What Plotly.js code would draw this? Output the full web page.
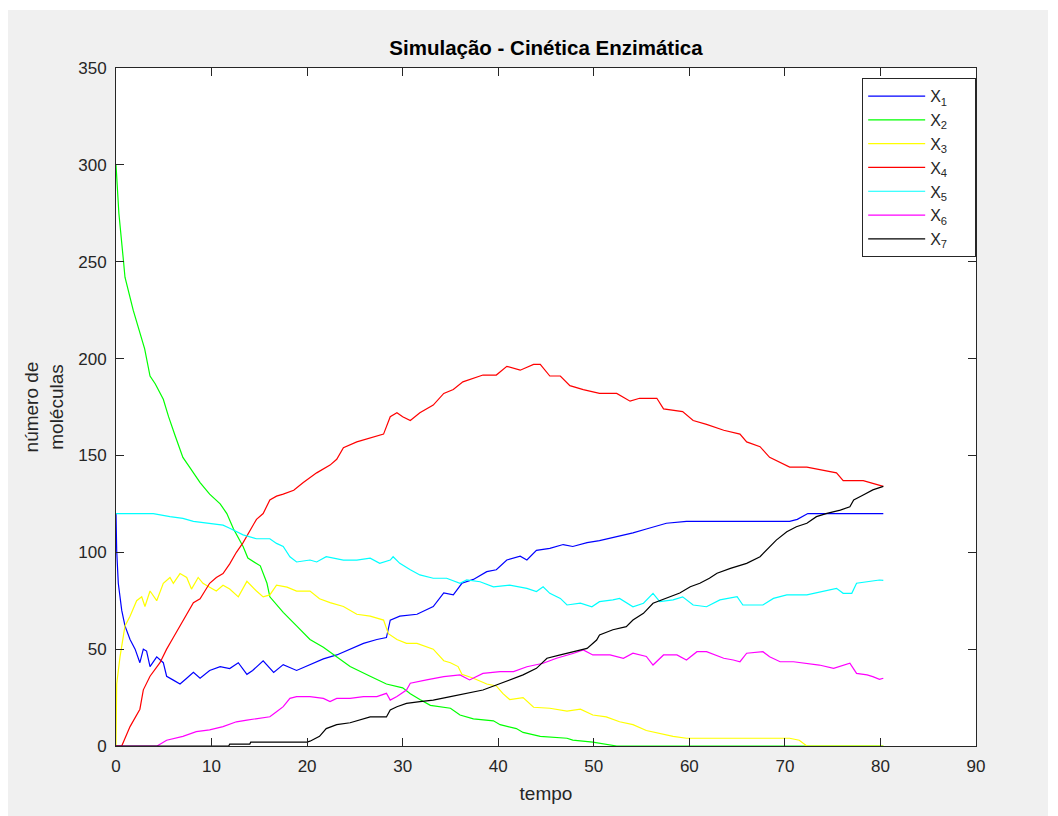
<!DOCTYPE html>
<html>
<head>
<meta charset="utf-8">
<script src="https://cdn.plot.ly/plotly-3.0.1.min.js"></script>
<style>
html,body{margin:0;padding:0;background:#ffffff;overflow:hidden;}
#chart{position:absolute;left:8px;top:10px;width:1040px;height:806px;}
</style>
</head>
<body>
<div id="chart"></div>
<script>
// ---- data ----
const seriesNames = ["X<sub>1</sub>","X<sub>2</sub>","X<sub>3</sub>","X<sub>4</sub>","X<sub>5</sub>","X<sub>6</sub>","X<sub>7</sub>"];

const t1 = [0,0.07,0.24,0.6,0.94,1.47,2.0,2.5,2.86,3.2,3.56,4.26,4.95,5.3,6.0,6.7,7.4,8.1,8.8,9.8,10.9,11.9,12.8,13.7,14.3,15.4,16.5,17.5,18.9,20.3,21.7,23.1,24.5,25.9,27.3,28.3,28.7,29.7,31.5,33.2,34.3,35.3,36.2,37.4,38.8,39.8,40.9,42.3,43.0,44.0,45.4,46.8,47.8,49.3,50.6,52.4,54.1,55.5,57.6,59.7,70.5,71.3,72.4,80.3];
const x1 = [120,101,84,70,62,55,50,43,50,49,41,46,43,36,34,32,35,38,35,39,41,40,43,37,39,44,38,42,39,42,45,47,50,53,55,56,65,67,68,72,79,78,84,86,90,91,96,98,96,101,102,104,103,105,106,108,110,112,115,116,116,117,120,120];

const t2 = [0,0.3,0.77,0.94,1.8,2.5,3.0,3.56,4.1,4.95,5.5,6.2,7.0,7.7,8.8,9.8,10.9,11.6,12.3,13.3,13.8,15.1,15.8,16.1,17.5,18.9,20.3,21.7,23.1,24.5,26.6,28.3,30.0,30.8,31.8,32.9,35.0,36.0,37.4,39.5,40.2,41.9,42.6,44.4,47.2,47.8,49.9,51.0,52.4,80.3];
const x2 = [300,275,251,242,225,213,205,191,187,179,170,160,149,144,136,130,125,120,112,103,97,93,84,77,69,62,55,51,46,41,36,32,30,27,24,21,19.5,16,14,13,11,9,7,5,4,3,2,1,0,0];

const t3 = [0,0.07,0.42,0.94,1.47,2.16,2.69,3.03,3.56,4.26,4.95,5.65,6.0,6.7,7.4,7.9,8.6,9.1,9.8,10.5,11.2,11.9,12.8,13.7,14.7,15.4,16.1,16.8,17.9,18.9,20.3,21.3,22.4,23.8,25.2,26.6,28.0,28.5,29.4,30.4,31.5,33.2,34.3,35.0,35.8,36.2,37.4,38.8,39.8,40.5,41.2,42.6,43.7,45.4,47.2,48.6,49.9,51.3,52.7,54.1,55.5,56.9,58.3,59.7,70.5,71.5,72.3,80.3];
const x3 = [0,32,46,62,67,75,77,72,80,75,84,87,84,89,87,81,87,84,82,80,83,81,77,85,80,77,78,83,82,80,80,76,74,72,68,67,65,58,55,53,53,50,44,43,41,37,35,32,31,27,24,25,20,19.5,18,19,16,15,12.5,11,8,6.6,5,4,4,3,0,0];

const t4 = [0,0.6,1.47,2.5,2.86,3.56,4.6,5.3,6.0,6.7,7.4,8.1,8.8,9.8,10.5,11.2,11.9,12.6,13.3,14.0,14.7,15.4,16.1,16.8,17.5,18.6,19.6,21.0,22.4,23.1,23.8,25.2,26.6,28.0,28.7,29.4,30.0,30.8,31.8,33.2,34.3,35.3,36.3,37.4,38.4,39.8,40.9,42.3,43.7,44.4,45.4,46.5,47.5,48.9,50.6,52.4,53.8,54.8,56.6,57.3,59.0,59.3,60.4,61.8,63.6,65.3,66.0,67.4,68.4,70.5,72.3,74.0,75.4,76.1,78.2,79.2,80.3];
const x4 = [0,0,10,19,29,36,43,50,56,62,68,74,76,84,87,89,94,100,105,111,117,120,127,129,130,132,136,141,145,148,154,157,159,161,170,172,170,168,172,176,182,184,188,190,191.5,191.5,196,194,197,197,191,191,186,184,182,182,178,179.5,179.5,174,173,172.6,168,166,163,161,157,154.5,149,144,144,142.5,141,137,137,135.6,134];

const t5 = [0,3.9,5.65,7.0,8.1,9.5,11.2,11.9,12.6,13.3,14.7,16.1,16.8,17.5,18.2,18.9,20.3,21.0,22.0,23.8,25.2,26.6,27.6,28.7,29.0,29.7,30.8,31.8,33.2,34.6,36.0,36.7,38.1,39.5,41.2,43.0,44.0,44.7,45.4,46.5,47.2,48.6,49.8,50.6,52.0,52.7,54.1,55.2,56.2,56.9,58.3,59.3,60.4,61.8,63.2,65.0,65.6,67.7,68.8,70.2,72.3,74.0,75.4,76.1,77.0,77.5,78.6,79.9,80.3];
const x5 = [120,120,118.4,117.5,116,115,114,112.4,110.6,109,107,107,104.6,103,97.7,95,96,95,97.7,96,96,97,94.3,96,97.7,94.3,91,88.3,86.6,86.6,84,85.7,84.8,82.2,83,81.4,79.7,82.2,78.8,76.2,72.8,73.7,71.9,74.5,75.4,76.2,71.9,73.7,78.8,74.5,75.4,77,72.8,71.9,75.4,77.1,72.8,72.8,76.2,78,78,79.7,81.4,78.8,78.8,84,84.8,85.7,85.5];

const t6 = [0,4.3,5.3,7.0,8.4,9.8,11.2,12.6,13.7,15.1,16.1,16.8,17.5,18.2,18.9,20.3,21.7,22.4,23.1,24.5,25.9,27.3,28.3,28.7,29.4,30.4,30.8,32.5,34.3,36.0,37.0,38.4,40.2,41.6,43.0,44.7,46.1,47.9,48.9,49.9,51.7,53.1,54.1,55.5,56.2,57.3,58.7,59.7,60.8,61.8,63.6,64.6,65.3,66.0,67.7,68.4,69.5,70.9,72.3,73.6,75.1,76.1,76.8,77.5,78.6,79.2,79.9,80.3];
const x6 = [0,0,3,5,7.4,8.3,10,12.5,13.4,14.3,15.1,17.7,20.3,24.6,25.5,25.5,24.6,22.9,24.6,24.6,25.5,25.5,27.2,23.7,25.5,28.9,32.4,34.1,35.8,36.7,34.1,37.5,38.4,38.4,40.9,42.7,45.3,47.9,49.6,47,47,45.3,47.9,46.2,41.8,47,47,44.4,48.7,48.7,45.3,44.4,43.5,47.9,48.7,46.1,43.5,43.5,42.7,41.8,40.1,41.8,42.7,37.5,36.7,35.8,34.4,35];

const t7 = [0,11.8,11.9,14.0,14.1,20.0,20.3,21.3,22.0,23.1,24.5,25.5,26.6,28.3,28.7,29.4,30.4,31.8,33.2,35.0,36.7,38.4,39.8,41.2,42.6,44.0,45.1,46.5,47.9,49.3,50.3,50.6,52.0,53.4,54.1,55.2,56.2,57.6,59.0,60.1,61.1,62.1,62.9,64.3,66.0,67.4,68.3,69.1,70.2,71.2,72.3,73.3,74.4,75.8,76.8,77.2,78.2,79.2,80.3];
const x7 = [0,0,1,1,2,2,2.5,5,9,11,12,13.4,15,15,18.6,20.3,22,22.9,23.7,25.5,27.2,28.9,31.5,34.1,36.7,40.1,45.3,47,48.7,50.4,54.7,57.3,60,61.6,65,68.5,73.7,76.2,79,82.2,84,86.6,89.2,91.7,94.3,97.7,102,106.3,110.6,113.2,115,118.4,120.1,121.8,123.5,127,129.6,132.2,134];

const xTicks = [0,10,20,30,40,50,60,70,80,90];
const yTicks = [0,50,100,150,200,250,300,350];
const titleText = "Simulação - Cinética Enzimática";
const xLabel = "tempo";
const yLabel = "número de<br>moléculas";

// ---- styling ----
const colors = ["#0000ff","#00ff00","#ffff00","#ff0000","#00ffff","#ff00ff","#000000"];
const ts = [t1,t2,t3,t4,t5,t6,t7];
const xs = [x1,x2,x3,x4,x5,x6,x7];
const font = "Liberation Sans, Arial, Helvetica, sans-serif";
const axisCol = "#262626";
const pad = "\u00a0\u00a0\u00a0\u00a0\u00a0";

const traces = ts.map((t,i)=>({
  x: t, y: xs[i], type: "scatter", mode: "lines", name: seriesNames[i] + pad,
  line: {color: colors[i], width: 1.2}
}));

const axBase = {
  showline: true, linecolor: axisCol, linewidth: 1, mirror: "ticks",
  ticks: "inside", ticklen: 8, tickcolor: axisCol, tickwidth: 1,
  showgrid: false, zeroline: false, tickfont: {family: font, size: 17, color: axisCol},
  automargin: false, fixedrange: true
};

const layout = {
  width: 1040, height: 806,
  paper_bgcolor: "#f0f0f0", plot_bgcolor: "#ffffff",
  margin: {l: 108, r: 72, t: 58, b: 70},
  showlegend: true,
  title: {text: "<b>" + titleText + "</b>", font: {family: font, size: 20.5, color: "#000000"},
          x: 0.5, xref: "paper", y: 1 - 38/806, yref: "container", yanchor: "middle"},
  xaxis: Object.assign({}, axBase, {range: [0,90], tickvals: xTicks, ticktext: xTicks.map(String),
          ticklabelstandoff: 5,
          title: {text: xLabel, font: {family: font, size: 19, color: axisCol}, standoff: 11}}),
  yaxis: Object.assign({}, axBase, {range: [0,350], tickvals: yTicks, ticktext: yTicks.map(String),
          ticklabelstandoff: 5,
          title: {text: yLabel, font: {family: font, size: 19, color: axisCol}, standoff: 9}}),
  legend: {x: 1.0002, xanchor: "right", y: 0.985, yanchor: "top",
           bgcolor: "#ffffff", bordercolor: axisCol, borderwidth: 1,
           font: {family: font, size: 16, color: axisCol}, itemwidth: 57, tracegroupgap: 0}
};

Plotly.newPlot("chart", traces, layout, {displayModeBar: false, staticPlot: true});
</script>
</body>
</html>
